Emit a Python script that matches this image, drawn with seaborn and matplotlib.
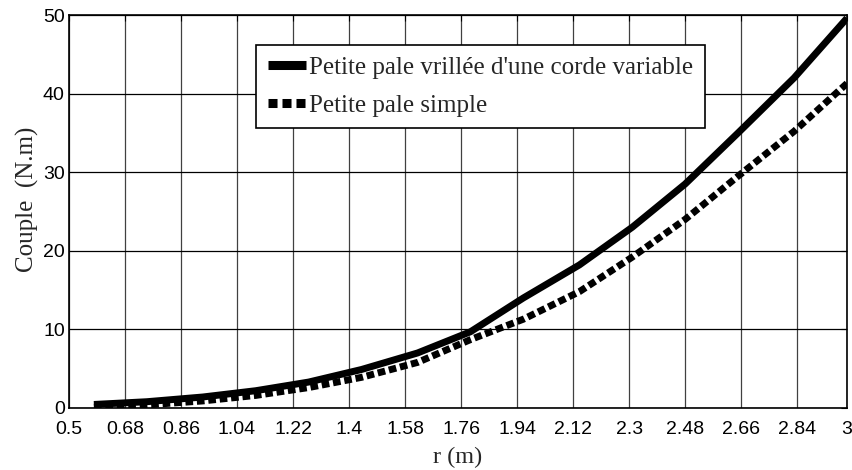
import matplotlib
matplotlib.use("Agg")
import matplotlib.pyplot as plt
import seaborn as sns
import pandas as pd
from matplotlib.lines import Line2D

r_values = [0.58, 0.75, 0.93, 1.10, 1.27, 1.44, 1.62, 1.79, 1.96, 2.14, 2.31, 2.48, 2.65, 2.83, 3.0]
couple_vrillee = [0.45, 0.8, 1.4, 2.2, 3.3, 4.9, 7.0, 9.7, 14.0, 18.2, 23.0, 28.5, 35.0, 42.0, 49.6]
couple_simple = [0.1, 0.4, 0.9, 1.6, 2.6, 3.9, 5.8, 8.7, 11.3, 14.8, 19.2, 24.0, 29.5, 35.2, 41.3]
series_names = ["Petite pale vrillée d'une corde variable", "Petite pale simple"]
x_ticks = [0.5, 0.68, 0.86, 1.04, 1.22, 1.4, 1.58, 1.76, 1.94, 2.12, 2.3, 2.48, 2.66, 2.84, 3.0]
x_tick_labels = ["0.5", "0.68", "0.86", "1.04", "1.22", "1.4", "1.58", "1.76", "1.94",
                 "2.12", "2.3", "2.48", "2.66", "2.84", "3"]
y_ticks = [0, 10, 20, 30, 40, 50]

df = pd.DataFrame({
    "r": r_values * 2,
    "couple": couple_vrillee + couple_simple,
    "serie": [series_names[0]] * len(r_values) + [series_names[1]] * len(r_values),
})

sns.set_style("white")
plt.rcParams['font.family'] = ['Liberation Sans', 'DejaVu Sans']
plt.rcParams['lines.solid_capstyle'] = 'butt'
plt.rcParams['lines.dash_capstyle'] = 'butt'

fig = plt.figure(figsize=(8.52, 4.70), dpi=100)
ax = fig.add_axes([69/852, 62/470, 778/852, 393/470])

sns.lineplot(data=df, x="r", y="couple", hue="serie", style="serie",
             palette=["black", "black"], dashes=[(1, 0), (1.1, 0.55)],
             linewidth=5.0, ax=ax, legend=False, sort=False)
for ln in ax.lines:
    ln.set_solid_capstyle("butt")
    ln.set_dash_capstyle("butt")
    ln.set_solid_joinstyle("miter")

ax.set_xlim(0.5, 3.0)
ax.set_ylim(0, 50)
ax.set_xticks(x_ticks)
ax.set_xticklabels(x_tick_labels)
ax.set_yticks(y_ticks)
ax.xaxis.grid(True, color="#404040", linewidth=0.9)
ax.yaxis.grid(True, color="black", linewidth=0.9)
ax.set_axisbelow(True)
for s in ax.spines.values():
    s.set_color("black")
    s.set_linewidth(1.2)
ax.tick_params(axis="both", direction="in", length=4, width=0.8, top=True, right=True,
               labelsize=14, colors="black")
ax.tick_params(axis="x", pad=9)
ax.tick_params(axis="y", pad=3)

ax.set_xlabel("r (m)", family=["Liberation Serif"], fontsize=17.5, labelpad=7)
ax.set_ylabel("Couple  (N.m)", family=["Liberation Serif"], fontsize=18)
ax.yaxis.set_label_coords(-0.039, 0.532)

handles = [Line2D([], [], color="black", linewidth=6.5, solid_capstyle="butt"),
           Line2D([], [], color="black", linewidth=6.5, dashes=(1.0, 0.55), dash_capstyle="butt")]
leg = ax.legend(handles, series_names, loc="upper left", bbox_to_anchor=(0.241, 0.924),
                borderaxespad=0, prop={"family": "Liberation Serif", "size": 18},
                handlelength=1.55, handletextpad=0.12, fancybox=False, framealpha=1,
                edgecolor="black", borderpad=0.45, labelspacing=0.62)
leg.get_frame().set_linewidth(1.2)

fig.savefig("out.png", dpi=100)
